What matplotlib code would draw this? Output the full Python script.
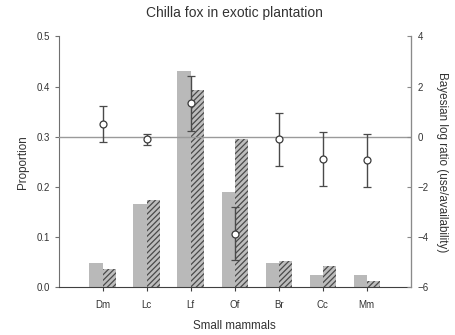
import matplotlib
matplotlib.use("Agg")
import matplotlib.pyplot as plt
import numpy as np

plt.rcParams['font.family'] = ['Liberation Sans', 'DejaVu Sans']
plt.rcParams['hatch.linewidth'] = 0.9

# Small mammal prey categories
categories = ["Dm", "Lc", "Lf", "Of", "Br", "Cc", "Mm"]

# Proportions: availability (stippled) and use (hatched)
availability = [0.048, 0.166, 0.430, 0.190, 0.048, 0.024, 0.024]
use = [0.036, 0.173, 0.393, 0.295, 0.052, 0.042, 0.013]

# Bayesian log ratio (use/availability) with credible interval limits
log_ratio = [0.49, -0.10, 1.33, -3.86, -0.10, -0.89, -0.94]
ci_upper = [1.21, 0.11, 2.41, -2.80, 0.96, 0.19, 0.12]
ci_lower = [-0.22, -0.32, 0.24, -4.92, -1.16, -1.98, -2.02]

x = np.arange(1, len(categories) + 1)
w = 0.3

fig = plt.figure(figsize=(4.56, 3.35), dpi=100)
ax = fig.add_axes([0.1287, 0.1424, 0.772, 0.7492])
ax2 = ax.twinx()

ax.bar(x - w / 2, availability, width=w, color="#b9b9b9", linewidth=0, zorder=2)
ax.bar(x + w / 2, use, width=w, color="#bdbdbd", edgecolor="#4a4a4a",
       hatch="//////", linewidth=0, zorder=2)

ax.set_xlim(0, 8)
ax.set_ylim(0, 0.5)
ax.set_yticks([0.0, 0.1, 0.2, 0.3, 0.4, 0.5])
ax.set_yticklabels(["0.0", "0.1", "0.2", "0.3", "0.4", "0.5"])
ax.set_xticks(x)
ax.set_xticklabels(categories)

ax2.set_ylim(-6, 4)
ax2.set_yticks([-6, -4, -2, 0, 2, 4])
ax2.axhline(0, color="#9a9a9a", linewidth=1.0, zorder=1)

yerr = [np.array(log_ratio) - np.array(ci_lower),
        np.array(ci_upper) - np.array(log_ratio)]
ax2.errorbar(x, log_ratio, yerr=yerr, fmt="o", color="#4a4a4a",
             ecolor="#4a4a4a", elinewidth=1.0, capsize=3, capthick=1.0,
             markersize=5, markerfacecolor="white", markeredgecolor="#3a3a3a",
             markeredgewidth=0.9, zorder=3)

for a in (ax, ax2):
    a.spines['top'].set_visible(False)
ax.spines['left'].set_color("#707070")
ax.spines['bottom'].set_color("#404040")
ax2.spines['right'].set_color("#8a8a8a")
ax2.spines['left'].set_visible(False)
ax2.spines['bottom'].set_visible(False)

ax.tick_params(axis='y', direction='out', length=3, width=0.8, colors="#707070",
               labelcolor="#333333", labelsize=7, pad=3)
ax.tick_params(axis='x', direction='out', length=3, width=0.8, colors="#404040",
               labelcolor="#333333", labelsize=7, pad=6)
ax2.tick_params(axis='y', direction='in', length=3, width=0.8, colors="#8a8a8a",
                labelcolor="#333333", labelsize=7, pad=5)

ax.set_ylabel("Proportion", fontsize=8.4, color="#333333", labelpad=6)
ax.set_xlabel("Small mammals", fontsize=8.4, color="#333333", labelpad=7)
ax2.set_ylabel("Bayesian log ratio (use/availability)", fontsize=8.4,
               color="#333333", rotation=-90, labelpad=14)
ax.set_title("Chilla fox in exotic plantation", fontsize=10, color="#333333",
             pad=14)

fig.savefig("out.png", dpi=100)
